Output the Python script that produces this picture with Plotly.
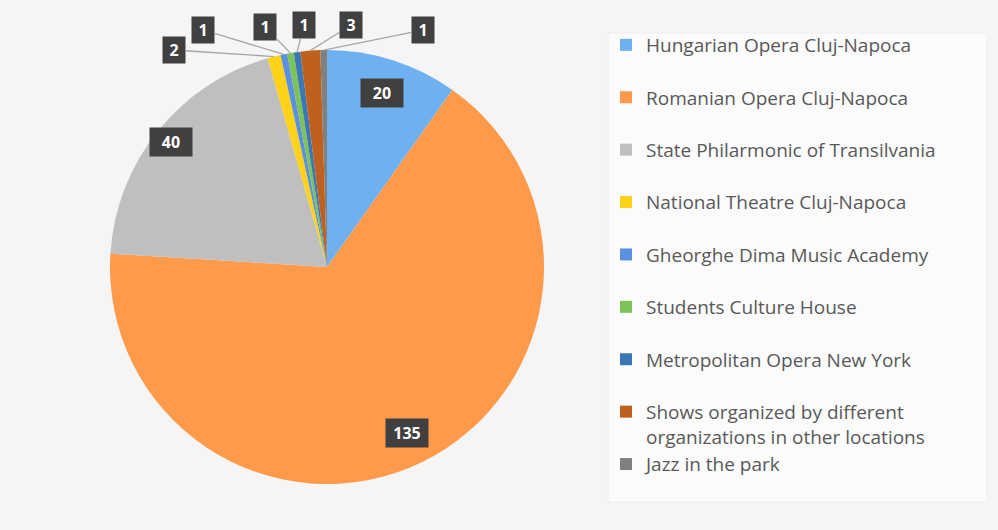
import math
import plotly.graph_objects as go

labels = [
    "Hungarian Opera Cluj-Napoca",
    "Romanian Opera Cluj-Napoca",
    "State Philarmonic of Transilvania",
    "National Theatre Cluj-Napoca",
    "Gheorghe Dima Music Academy",
    "Students Culture House",
    "Metropolitan Opera New York",
    "Shows organized by different<br>organizations in other locations",
    "Jazz in the park",
]
values = [20, 135, 40, 2, 1, 1, 1, 3, 1]
colors = ["#6FB1F0", "#FF9A4B", "#BFBFBF", "#FFD21A", "#5B8FE0",
          "#7DC35A", "#3A78B5", "#C0601E", "#808080"]

W, H = 998, 530
cx, cy, r = 327, 267, 217

# legend: pad single-line entries with a blank line so spacing matches
legend_labels = [l if ("<br>" in l or i == len(labels) - 1) else l + "<br> "
                 for i, l in enumerate(labels)]

fig = go.Figure()
fig.add_trace(go.Pie(
    labels=legend_labels, values=values, sort=False, direction="clockwise",
    rotation=0, textinfo="none", hoverinfo="label+value",
    marker=dict(colors=colors, line=dict(width=0)),
    domain=dict(x=[(cx - r) / W, (cx + r) / W],
                y=[(H - cy - r) / H, (H - cy + r) / H]),
))

# data labels (computed from slice angles)
total = sum(values)
inside = {0: 0.84, 1: 0.85, 2: 0.92}
outside_pos = {3: (174, 50), 4: (203, 30), 5: (265, 27),
               6: (304, 25), 7: (351, 25), 8: (423, 30)}
lbl_font = dict(family="Open Sans", size=16, color="white")
cum = 0
for i, v in enumerate(values):
    mid = (cum + v / 2) / total * 2 * math.pi
    cum += v
    if i in inside:
        f = inside[i]
        px = cx + r * f * math.sin(mid)
        py = cy - r * f * math.cos(mid)
        fig.add_annotation(x=px / W, y=1 - py / H, xref="paper", yref="paper",
                           xanchor="center", yanchor="middle",
                           text=f"<b>{v}</b>", showarrow=False, font=lbl_font,
                           width=32, height=18, bgcolor="#404040", borderpad=5)
    else:
        tx = cx + r * math.sin(mid)
        ty = cy - r * math.cos(mid)
        lx, ly = outside_pos[i]
        fig.add_annotation(x=tx / W, y=1 - ty / H, xref="paper", yref="paper",
                           text=f"<b>{v}</b>", showarrow=True, arrowhead=0,
                           arrowwidth=1.3, arrowcolor="#a6a6a6",
                           ax=lx - tx, ay=ly - ty, font=lbl_font,
                           width=12, height=16, bgcolor="#404040", borderpad=5)

# legend box
fig.add_shape(type="rect", xref="paper", yref="paper",
              x0=608 / W, x1=987 / W, y0=1 - 502 / H, y1=1 - 33 / H,
              fillcolor="#fbfbfb", line=dict(color="#eeeeee", width=1), layer="below")

fig.update_layout(
    width=W, height=H,
    margin=dict(l=0, r=0, t=0, b=0),
    paper_bgcolor="#f5f5f5",
    showlegend=True,
    legend=dict(x=606 / W, y=1 - 26 / H, xanchor="left", yanchor="top",
                bgcolor="rgba(0,0,0,0)", valign="top",
                font=dict(family="Open Sans", size=19, color="#595959")),
)

fig.write_html("out.html", config={"displayModeBar": False},
               post_script="document.body.style.margin='0px';")
